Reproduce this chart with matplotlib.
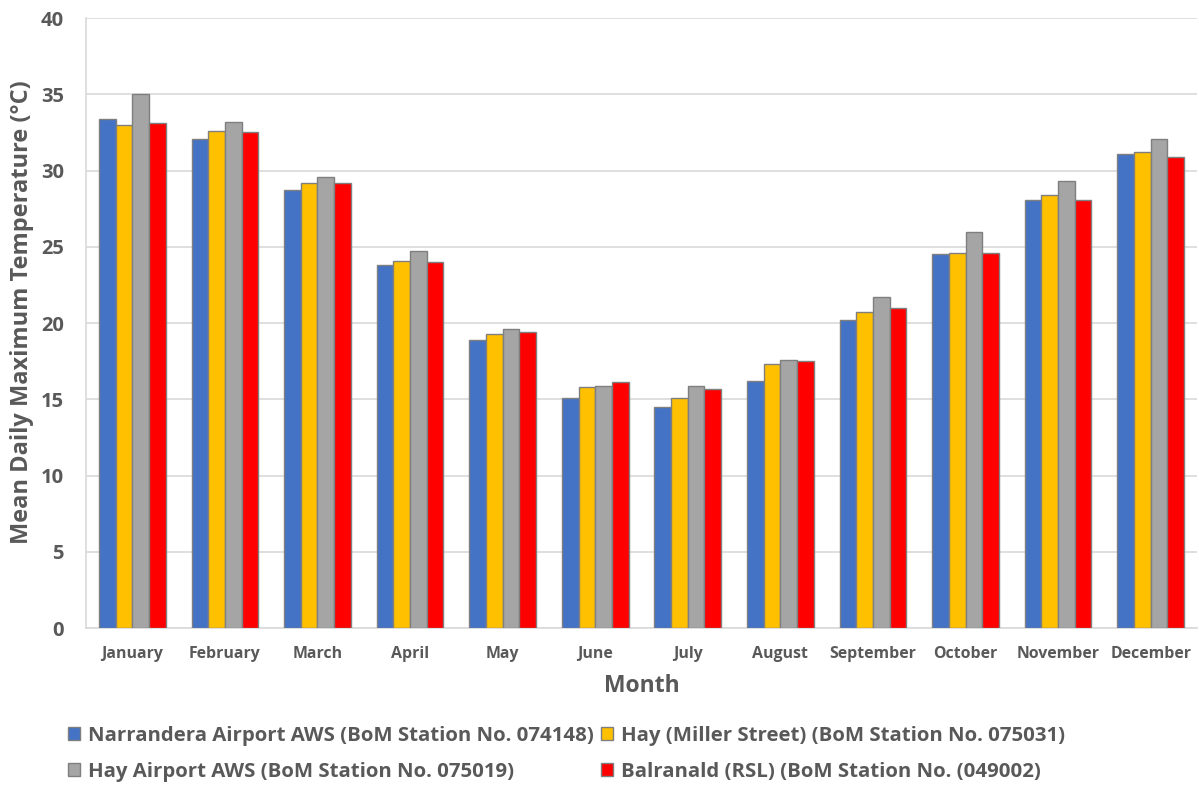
import matplotlib.pyplot as plt
import numpy as np

months = ['January', 'February', 'March', 'April', 'May', 'June', 'July',
          'August', 'September', 'October', 'November', 'December']
stations = ['Narrandera Airport AWS (BoM Station No. 074148)',
            'Hay (Miller Street) (BoM Station No. 075031)',
            'Hay Airport AWS (BoM Station No. 075019)',
            'Balranald (RSL) (BoM Station No. (049002)']
narrandera = [33.4, 32.1, 28.7, 23.8, 18.9, 15.1, 14.5, 16.2, 20.2, 24.5, 28.1, 31.1]
hay_miller = [33.0, 32.6, 29.2, 24.1, 19.3, 15.8, 15.1, 17.3, 20.7, 24.6, 28.4, 31.2]
hay_airport = [35.0, 33.2, 29.6, 24.7, 19.6, 15.9, 15.9, 17.6, 21.7, 26.0, 29.3, 32.1]
balranald = [33.1, 32.5, 29.2, 24.0, 19.4, 16.1, 15.7, 17.5, 21.0, 24.6, 28.1, 30.9]
colours = ['#4472c4', '#ffc000', '#a5a5a5', '#ff0000']

txt = '#595959'
plt.rcParams['font.family'] = ['Open Sans', 'DejaVu Sans']
plt.rcParams['font.weight'] = 'bold'

fig = plt.figure(figsize=(11.99, 7.85), dpi=100)
ax = fig.add_axes([0.0717, 0.2, 0.9266, 0.777])

x = np.arange(len(months))
w = 0.18
series = [narrandera, hay_miller, hay_airport, balranald]
for i, (vals, c, lab) in enumerate(zip(series, colours, stations)):
    ax.bar(x + (i - 1.5) * w, vals, width=w, color=c, edgecolor='#7f7f7f',
           linewidth=1.0, label=lab, zorder=3)

ax.set_xlim(-0.5, 11.5)
ax.set_ylim(0, 40)
ax.set_yticks(range(0, 41, 5))
ax.yaxis.grid(True, color='#d9d9d9', linewidth=1.2, zorder=0)
ax.set_xticks(x)
ax.set_xticklabels(months, fontsize=11.4, color=txt, fontweight='bold')
ax.tick_params(axis='y', labelsize=14.5, colors=txt, length=0, pad=16)
ax.tick_params(axis='x', length=0, pad=13)
for s in ['top', 'right']:
    ax.spines[s].set_visible(False)
for s in ['left', 'bottom']:
    ax.spines[s].set_color('#d9d9d9')
    ax.spines[s].set_linewidth(1.2)

ax.set_ylabel('Mean Daily Maximum Temperature (°C)', fontsize=17, color=txt,
              fontweight='bold')
ax.yaxis.set_label_coords(-0.047, 0.518)
ax.set_xlabel('Month', fontsize=16.5, color=txt, fontweight='bold')
ax.xaxis.set_label_coords(0.5, -0.075)

# legend in two columns below the axes
handles, labels = ax.get_legend_handles_labels()
order = [0, 2, 1, 3]
leg = fig.legend([handles[i] for i in order], [labels[i] for i in order],
                 ncol=2, loc='center left', bbox_to_anchor=(0.041, 0.040),
                 frameon=False, fontsize=14.7, handlelength=0.6,
                 handleheight=0.6, handletextpad=0.4, columnspacing=0.35,
                 labelspacing=0.78)
for t in leg.get_texts():
    t.set_color(txt)
    t.set_fontweight('bold')

fig.savefig('out.png', dpi=100)
